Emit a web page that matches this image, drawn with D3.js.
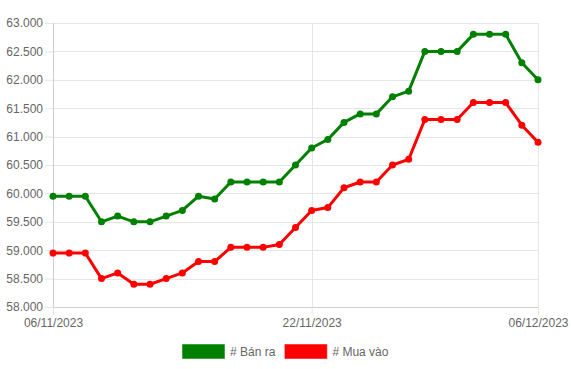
<!DOCTYPE html>
<meta charset="utf-8">
<style>
body {
    margin: 0;
    font: 12px "Liberation Sans", Arial, sans-serif;
    background: #fff;
}
.grid line {
    stroke: #e6e6e6;
    shape-rendering: crispEdges;
}
.axis text {
    fill: #666;
    font: 12px "Liberation Sans", Arial, sans-serif;
}
</style>
<body>
<svg width="571" height="369"></svg>
<script src="https://cdnjs.cloudflare.com/ajax/libs/d3/7.8.5/d3.min.js"></script>
<script>

var startDate = "06/11/2023";
var dayCount = 31;
var xTickLabels = ["06/11/2023", "22/11/2023", "06/12/2023"];
var yTicks = [58000, 58500, 59000, 59500, 60000, 60500, 61000, 61500, 62000, 62500, 63000];

var banRa  = [59950, 59950, 59950, 59500, 59600, 59500, 59500, 59600, 59700, 59950, 59900,
              60200, 60200, 60200, 60200, 60500, 60800, 60950, 61250, 61400, 61400,
              61700, 61800, 62500, 62500, 62500, 62800, 62800, 62800, 62300, 62000];
var muaVao = [58950, 58950, 58950, 58500, 58600, 58400, 58400, 58500, 58600, 58800, 58800,
              59050, 59050, 59050, 59100, 59400, 59700, 59750, 60100, 60200, 60200,
              60500, 60600, 61300, 61300, 61300, 61600, 61600, 61600, 61200, 60900];

var series = [
    {name: "# Bán ra", values: banRa, color: "#008000"},
    {name: "# Mua vào", values: muaVao, color: "#ff0000"}
];

var parseDate = d3.timeParse("%d/%m/%Y");
var fmtDate = d3.timeFormat("%d/%m/%Y");
var start = parseDate(startDate);
var dates = d3.range(dayCount).map(function(i) { return d3.timeDay.offset(start, i); });

var margin = {top: 23, right: 33, bottom: 62, left: 53};
var svg = d3.select("svg");
var width  = 571 - margin.left - margin.right;
var height = 369 - margin.top - margin.bottom;

var x = d3.scaleTime()
    .domain(d3.extent(dates))
    .range([0, width]);
var y = d3.scaleLinear()
    .domain([58000, 63000])
    .range([height, 0]);

var g = svg.append("g")
    .attr("transform", "translate(" + margin.left + "," + margin.top + ")");

var fmtY = function(d) { return d3.format(".3f")(d / 1000); };

// horizontal grid
g.append("g")
    .attr("class", "grid")
    .call(d3.axisLeft(y).tickValues(yTicks).tickSize(-width).tickFormat(""))
    .call(function(s) { s.select(".domain").remove(); });

// vertical grid
var xTickDates = xTickLabels.map(parseDate);
g.append("g")
    .attr("class", "grid")
    .call(d3.axisBottom(x).tickValues(xTickDates).tickSize(height).tickFormat(""))
    .call(function(s) { s.select(".domain").remove(); });

// y axis
var yAxis = g.append("g")
    .attr("class", "axis")
    .call(d3.axisLeft(y).tickValues(yTicks).tickSize(8).tickPadding(2).tickFormat(fmtY));
yAxis.select(".domain").attr("stroke", "#cfcfcf").attr("d", "M0.5," + height + "V0");
yAxis.selectAll(".tick line").attr("stroke", "#e6e6e6");

// x axis
var xAxis = g.append("g")
    .attr("class", "axis")
    .attr("transform", "translate(0," + height + ")")
    .call(d3.axisBottom(x).tickValues(xTickDates).tickSize(8).tickPadding(3).tickFormat(fmtDate));
xAxis.select(".domain").attr("stroke", "#cfcfcf").attr("d", "M0,0.5H" + width);
xAxis.selectAll(".tick line").attr("stroke", "#e6e6e6");

var line = d3.line()
    .x(function(d, i) { return x(dates[i]); })
    .y(function(d) { return y(d); });

series.forEach(function(s) {
    g.append("path")
        .datum(s.values)
        .attr("fill", "none")
        .attr("stroke", s.color)
        .attr("stroke-width", 3)
        .attr("stroke-linejoin", "round")
        .attr("d", line);
    g.selectAll(null)
        .data(s.values)
        .enter().append("circle")
        .attr("cx", function(d, i) { return x(dates[i]); })
        .attr("cy", function(d) { return y(d); })
        .attr("r", 3.5)
        .attr("fill", s.color);
});

// legend, centred under the chart
var legend = svg.append("g");
var lx = 0;
series.forEach(function(s) {
    var item = legend.append("g").attr("transform", "translate(" + lx + ",0)");
    item.append("rect")
        .attr("x", 0.5).attr("y", 0.5)
        .attr("width", 42).attr("height", 14)
        .attr("fill", s.color)
        .attr("stroke", s.color)
        .attr("stroke-opacity", 0.5);
    var t = item.append("text")
        .attr("x", 48).attr("y", 12)
        .attr("fill", "#666")
        .text(s.name);
    lx += 48 + t.node().getComputedTextLength() + 9;
});
var legendW = lx - 9;
legend.attr("transform", "translate(" + Math.round((571 - legendW) / 2) + ",344)");

</script>
